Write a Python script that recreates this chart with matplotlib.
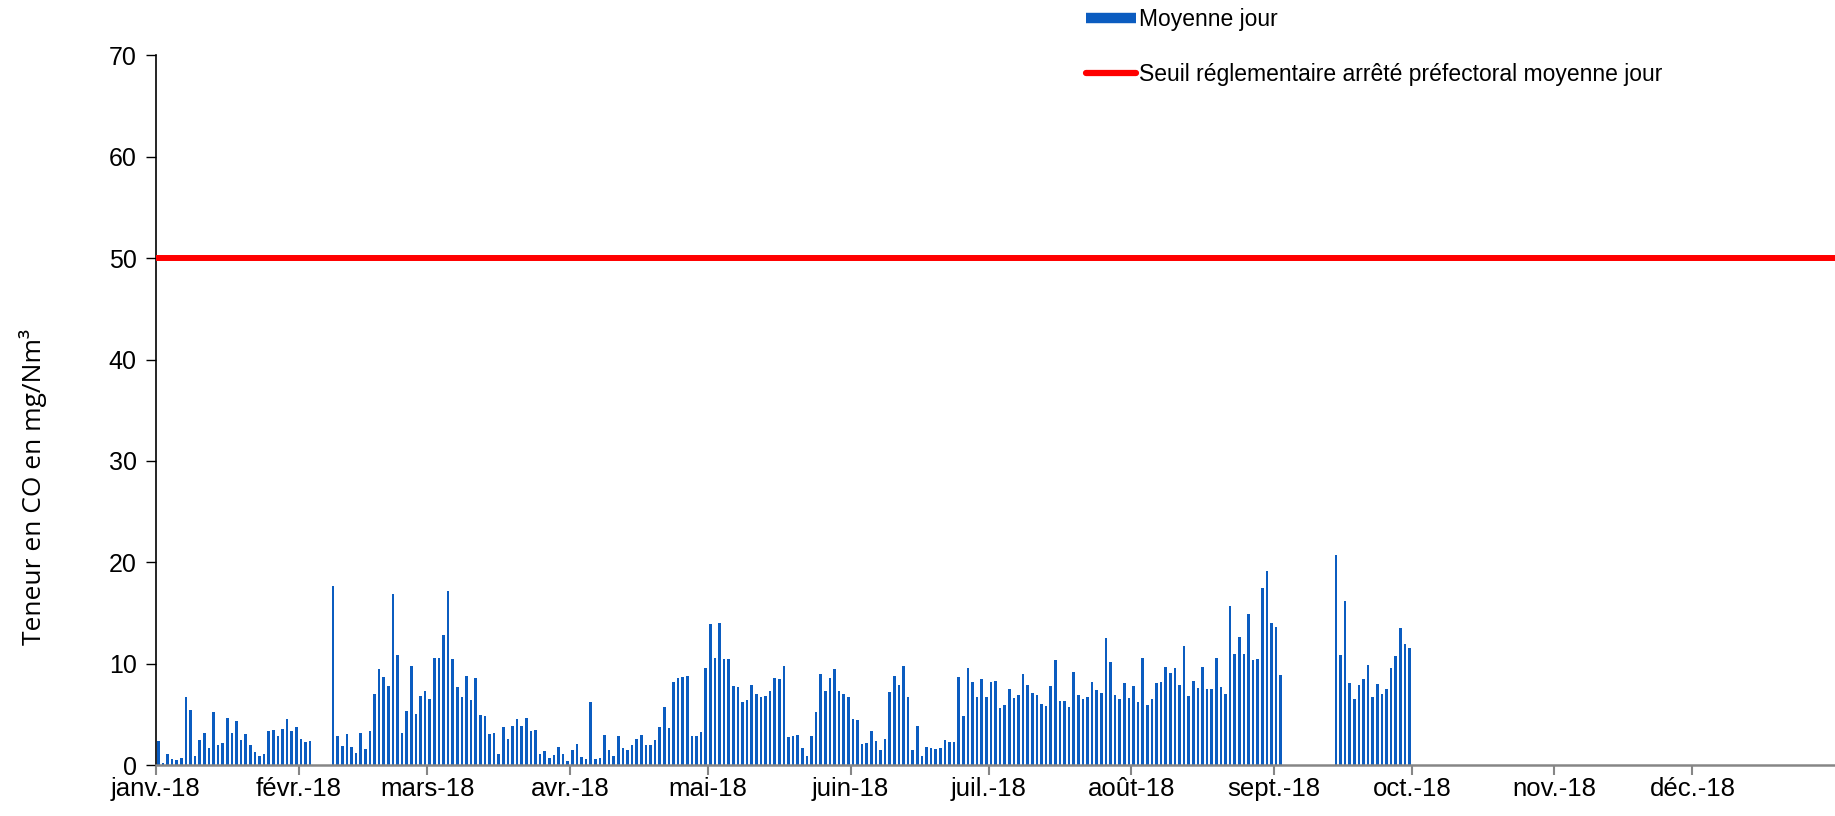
import numpy as np
import matplotlib
matplotlib.use("Agg")
import matplotlib.pyplot as plt
from matplotlib.lines import Line2D

nan = np.nan

# Daily mean CO (mg/Nm3), one list per month of 2018 (nan = no data)
jan = [2.4, 0.2, 1.1, 0.6, 0.5, 0.7, 6.7, 5.5, 0.9, 2.5, 3.2, 1.7, 5.3, 2.0, 2.2, 4.7,
       3.2, 4.4, 2.5, 3.1, 2.0, 1.3, 0.9, 1.1, 3.4, 3.5, 2.9, 3.6, 4.6, 3.4, 3.8]
feb = [2.6, 2.3, 2.4, nan, nan, nan, nan, 17.7, 2.85, 1.9, 3.1, 1.8, 1.2, 3.2, 1.6,
       3.4, 7.0, 9.5, 8.7, 7.8, 16.9, 10.9, 3.2, 5.4, 9.8, 5.1, 6.85, 7.3]
mar = [6.5, 10.6, 10.6, 12.85, 17.2, 10.5, 7.7, 6.7, 8.8, 6.4, 8.6, 5.0, 4.9, 3.1, 3.2,
       1.1, 3.8, 2.6, 3.9, 4.6, 3.9, 4.7, 3.4, 3.5, 1.15, 1.4, 0.75, 1.05, 1.8, 1.1, 0.46]
apr = [1.5, 2.1, 0.85, 0.6, 6.2, 0.6, 0.7, 3.0, 1.5, 0.95, 2.9, 1.7, 1.5, 2.0, 2.6,
       3.0, 2.0, 2.0, 2.5, 3.8, 5.8, 3.7, 8.2, 8.6, 8.7, 8.8, 2.9, 2.9, 3.3, 9.6]
may = [13.9, 10.6, 14.0, 10.5, 10.5, 7.8, 7.7, 6.2, 6.4, 7.9, 7.0, 6.7, 6.85, 7.3, 8.6,
       8.5, 9.8, 2.8, 2.85, 3.0, 1.7, 0.95, 2.9, 5.25, 9.0, 7.3, 8.6, 9.5, 7.3, 7.05, 6.7]
jun = [4.6, 4.5, 2.1, 2.2, 3.4, 2.4, 1.5, 2.6, 7.2, 8.85, 7.9, 9.8, 6.7, 1.5, 3.9,
       0.9, 1.8, 1.7, 1.6, 1.7, 2.5, 2.3, 2.3, 8.7, 4.9, 9.6, 8.2, 6.7, 8.5, 6.7]
jul = [8.2, 8.3, 5.7, 6.0, 7.5, 6.6, 6.95, 9.0, 7.9, 7.1, 6.95, 6.1, 5.9, 7.8, 10.4,
       6.3, 6.3, 5.8, 9.2, 6.95, 6.5, 6.7, 8.2, 7.4, 7.1, 12.6, 10.2, 6.95, 6.5, 8.1, 6.6]
aug = [7.8, 6.2, 10.6, 6.0, 6.5, 8.1, 8.2, 9.7, 9.1, 9.6, 7.9, 11.8, 6.85, 8.3, 7.6,
       9.7, 7.5, 7.5, 10.6, 7.7, 7.05, 15.7, 11.0, 12.7, 11.0, 14.95, 10.4, 10.5, 17.5, 19.15, 14.0]
sep = [13.6, 8.9, nan, nan, nan, nan, nan, nan, nan, nan, nan, nan, nan, 20.7, 10.9,
       16.2, 8.1, 6.5, 7.9, 8.5, 9.9, 6.7, 8.0, 7.05, 7.5, 9.6, 10.75, 13.5, 12.0, 11.6]

threshold = 50
month_start = [0, 31, 59, 90, 120, 151, 181, 212, 243, 273, 304, 334]
month_labels = ["janv.-18", "févr.-18", "mars-18", "avr.-18", "mai-18", "juin-18",
                "juil.-18", "août-18", "sept.-18", "oct.-18", "nov.-18", "déc.-18"]

values = np.array(jan + feb + mar + apr + may + jun + jul + aug + sep)
days = np.arange(len(values)) + 0.5

plt.rcParams["font.family"] = ["Liberation Sans", "DejaVu Sans"]

fig = plt.figure(figsize=(18.35, 8.16), dpi=100)
ax = fig.add_axes([0.085, 0.062, 0.915, 0.8705])

bar_color = "#0B5CC0"
ax.bar(days, values, width=0.55, color=bar_color, zorder=2)
ax.axhline(threshold, color="#FF0000", linewidth=4.3, zorder=3)

ax.set_xlim(0, 365)
ax.set_ylim(0, 70)
ax.set_yticks(range(0, 71, 10))
ax.set_xticks(month_start)
ax.set_xticklabels(month_labels)

ax.spines["top"].set_visible(False)
ax.spines["right"].set_visible(False)
ax.spines["left"].set_color("black")
ax.spines["left"].set_linewidth(1.2)
ax.spines["bottom"].set_color("#868686")
ax.spines["bottom"].set_linewidth(1.8)
ax.tick_params(axis="y", direction="out", length=7, width=1, color="black",
               labelsize=18, pad=7)
ax.tick_params(axis="x", direction="out", length=7, width=1.5, color="#868686",
               labelsize=18.5, pad=1)

fig.text(0.018, 0.403, "Teneur en CO en mg/Nm³", rotation=90, va="center", ha="center",
         fontsize=19, family=["Open Sans", "DejaVu Sans"])

# Legend
handles = [Line2D([], [], color=bar_color, linewidth=7.5, solid_capstyle="butt"),
           Line2D([], [], color="#FF0000", linewidth=4.5, solid_capstyle="round")]
fig.legend(handles, ["Moyenne jour", "Seuil réglementaire arrêté préfectoral moyenne jour"],
           loc="upper left", bbox_to_anchor=(0.587, 1.002), frameon=False,
           fontsize=16.5, handlelength=2.18, handletextpad=0.14, labelspacing=1.43,
           borderaxespad=0)

fig.savefig("out.png", dpi=100)
